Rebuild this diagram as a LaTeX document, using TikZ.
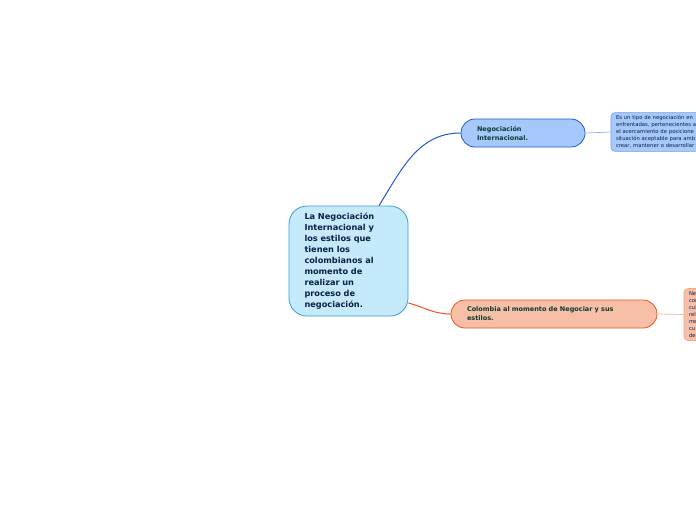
\documentclass[tikz,border=0pt]{standalone}
\usepackage{fontspec}
\setmainfont{DejaVu Sans}
\usetikzlibrary{calc}

\definecolor{centralfill}{HTML}{C4EAFB}
\definecolor{centralline}{HTML}{3B9BD6}
\definecolor{bluefill}{HTML}{A6C8FB}
\definecolor{blueline}{HTML}{1E5BD0}
\definecolor{bluesoft}{HTML}{6E9EEA}
\definecolor{orangefill}{HTML}{F8BFA8}
\definecolor{orangeline}{HTML}{F2511C}
\definecolor{orangesoft}{HTML}{F5A488}
\definecolor{navytext}{HTML}{0B1E46}
\definecolor{greentext}{HTML}{0B3B2C}

\tikzset{
  centralbox/.style={draw=centralline, fill=centralfill, line width=0.8pt,
    rounded corners=18pt, minimum width=119pt, minimum height=110pt,
    text width=88pt, align=left, text=navytext,
    font=\fontsize{8.2}{11}\selectfont\bfseries},
  topicbox/.style={draw=#1line, fill=#1fill, line width=0.8pt,
    rounded corners=14pt, minimum height=28pt, align=left, text=greentext,
    font=\fontsize{6.5}{9}\selectfont\bfseries},
  notebox/.style={draw=#1soft, fill=#1fill, line width=0.6pt,
    rounded corners=4pt, minimum width=150pt, text width=140pt,
    align=left, text=navytext, inner ysep=3pt,
    font=\fontsize{5.3}{7}\selectfont},
}

\begin{document}
\begin{tikzpicture}[x=1pt, y=-1pt]
    % lienzo del mapa mental
    \useasboundingbox (0,0) rectangle (696,520);
    \fill[white] (0,0) rectangle (696,520);
    \clip (0,0) rectangle (696,520);

    % --- nodo central ---
    \node[centralbox] (central) at (348.5,261)
        {La Negociación\\Internacional y\\los estilos que\\tienen los\\colombianos al\\momento de\\realizar un\\proceso de\\negociación.};

    % --- rama superior (azul) ---
    \node[topicbox=blue, minimum width=124pt, text width=92pt] (negint) at (523,133)
        {Negociación\\Internacional.};
    \node[notebox=blue, minimum height=38pt] (negnote) at (686,132)
        {Es un tipo de negociación en\\enfrentadas, pertenecientes a\\el acercamiento de posicione\\situación aceptable para amb\\crear, mantener o desarrollar};

    % --- rama inferior (naranja) ---
    \node[topicbox=orange, minimum width=206pt, text width=174pt] (colneg) at (554,314)
        {Colombia al momento de Negociar y sus\\estilos.};
    \node[notebox=orange, minimum height=51pt] (colnote) at (759,314.5)
        {Ne\\cor\\cul\\rel\\me\\cu\\de};

    % conectores
    \coordinate (ctop) at ($(central.north)+(30.5,0)$);
    \coordinate (cright) at ($(central.east)+(0,42)$);
    \draw[blueline, line width=1pt] (ctop) to[out=58, in=180] (negint.west);
    \draw[orangeline, line width=1pt] (cright) to[out=-15, in=180] (colneg.west);
    \draw[bluesoft!80, line width=0.7pt] (negint.east) -- (negnote.west);
    \draw[orangesoft!80, line width=0.7pt] (colneg.east) -- (colnote.west);

\end{tikzpicture}
\end{document}
